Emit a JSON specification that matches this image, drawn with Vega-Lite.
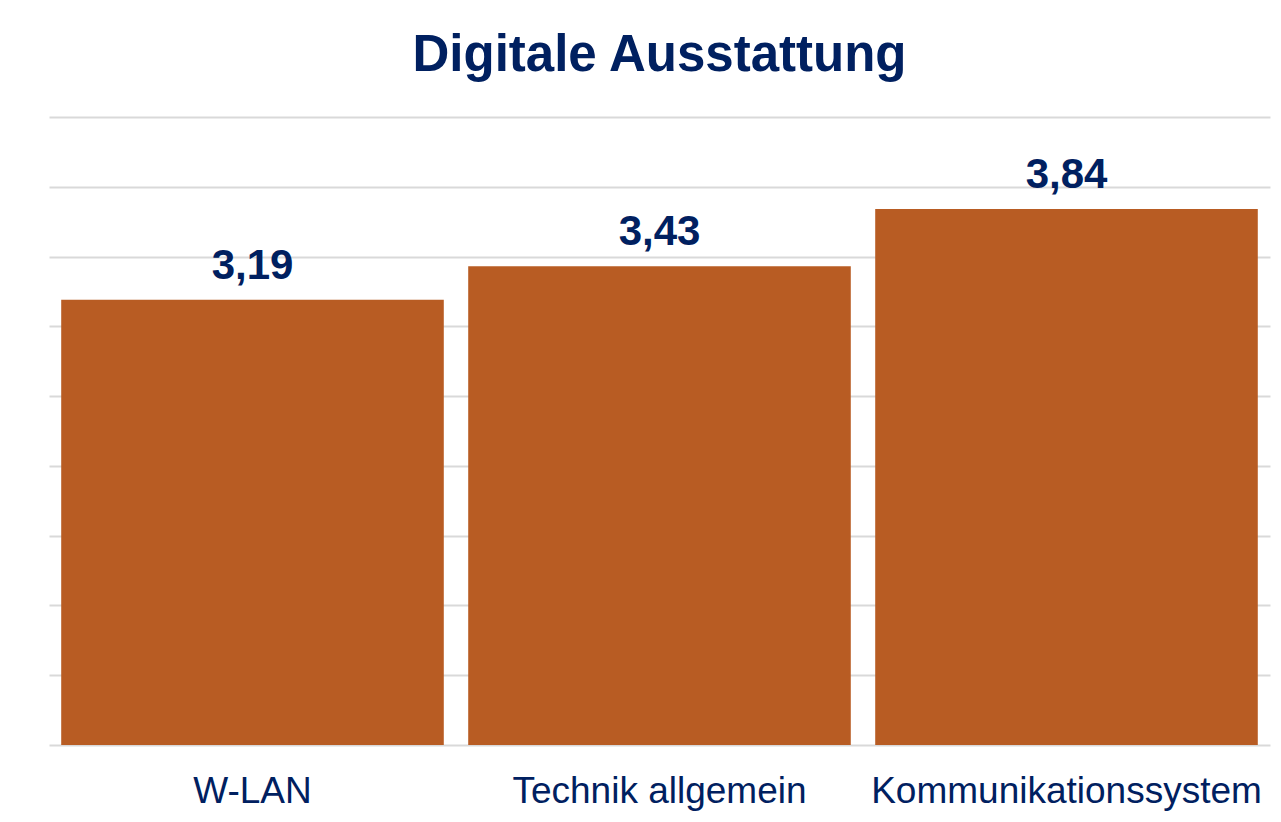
{
  "$schema": "https://vega.github.io/schema/vega-lite/v6.json",
  "autosize": {"type": "none"},
  "padding": {"left": 49, "top": 117, "right": 11, "bottom": 77},
  "width": 1221,
  "height": 628,
  "background": "white",
  "title": {
    "text": "Digitale Ausstattung",
    "font": "Liberation Sans",
    "fontSize": 51,
    "fontWeight": "bold",
    "color": "#002060",
    "anchor": "middle",
    "baseline": "alphabetic",
    "offset": -5
  },
  "data": {
    "values": [
      {"Kategorie": "W-LAN", "Wert": 3.19, "Label": "3,19"},
      {"Kategorie": "Technik allgemein", "Wert": 3.43, "Label": "3,43"},
      {"Kategorie": "Kommunikationssystem", "Wert": 3.84, "Label": "3,84"}
    ]
  },
  "encoding": {
    "x": {
      "field": "Kategorie",
      "type": "nominal",
      "sort": null,
      "scale": {"paddingInner": 0.06, "paddingOuter": 0.03},
      "axis": {
        "title": null,
        "labelAngle": 0,
        "labelFont": "Liberation Sans",
        "labelFontSize": 37,
        "labelColor": "#002060",
        "labelBaseline": "alphabetic",
        "labelPadding": 57,
        "labelLimit": 0,
        "labelOverlap": false,
        "ticks": false,
        "tickSize": 0,
        "domainColor": "#D9D9D9",
        "domainWidth": 2,
        "grid": false
      }
    },
    "y": {
      "field": "Wert",
      "type": "quantitative",
      "scale": {"domain": [0, 4.5], "nice": false},
      "axis": {
        "title": null,
        "labels": false,
        "ticks": false,
        "domain": false,
        "grid": true,
        "gridColor": "#D9D9D9",
        "gridWidth": 2,
        "values": [0.5, 1, 1.5, 2, 2.5, 3, 3.5, 4, 4.5]
      }
    }
  },
  "layer": [
    {"mark": {"type": "bar", "color": "#B85C23"}},
    {
      "mark": {
        "type": "text",
        "font": "Liberation Sans",
        "fontSize": 42,
        "fontWeight": "bold",
        "color": "#002060",
        "baseline": "alphabetic",
        "dy": -21
      },
      "encoding": {"text": {"field": "Label"}}
    }
  ],
  "config": {"view": {"stroke": null}}
}
